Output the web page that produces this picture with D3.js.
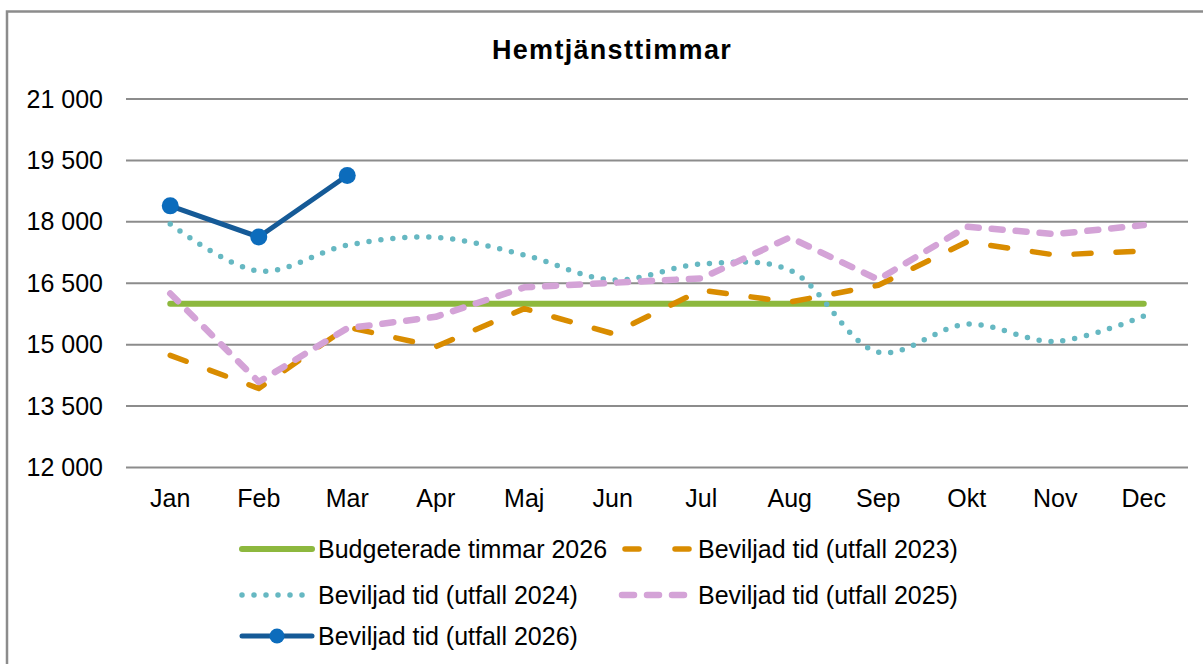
<!DOCTYPE html>
<html>
<head>
<meta charset="utf-8">
<script src="https://cdn.jsdelivr.net/npm/d3@7"></script>
<style>
  body { margin: 0; background: #fff; }
  svg { font-family: "Liberation Sans", Arial, sans-serif; }
</style>
</head>
<body>
<div id="chart"></div>
<script>
const months = ["Jan", "Feb", "Mar", "Apr", "Maj", "Jun", "Jul", "Aug", "Sep", "Okt", "Nov", "Dec"]
const yTicks = [12000, 13500, 15000, 16500, 18000, 19500, 21000]

const budget2026 = [16000, 16000, 16000, 16000, 16000, 16000, 16000, 16000, 16000, 16000, 16000, 16000]
const utfall2023 = [14740, 13930, 15430, 14950, 15880, 15270, 16330, 16040, 16450, 17510, 17190, 17290]
const utfall2024 = [17950, 16800, 17430, 17620, 17190, 16580, 16970, 16820, 14820, 15500, 15080, 15700]
const utfall2025 = [16250, 14090, 15400, 15680, 16400, 16510, 16620, 17620, 16590, 17880, 17700, 17920]
const utfall2026 = [18390, 17630, 19130]

const W = 1203, H = 664
const svg = d3.select("#chart").append("svg")
    .attr("width", W)
    .attr("height", H)

// chart frame (only top and left edges visible)
svg.append("path")
    .attr("d", "M7,664 V11.5 H1203")
    .attr("fill", "none")
    .attr("stroke", "#8c8c8c")
    .attr("stroke-width", 2.5)

svg.append("text")
    .attr("x", 612)
    .attr("y", 59)
    .attr("text-anchor", "middle")
    .attr("font-size", 27)
    .attr("font-weight", "bold")
    .attr("letter-spacing", 1.3)
    .text("Hemtjänsttimmar")

const x = d3.scaleBand()
    .domain(months)
    .range([126, 1188])

const y = d3.scaleLinear()
    .domain([12000, 21000])
    .range([467.5, 99])

const cx = m => x(m) + x.bandwidth() / 2

// grid lines
svg.append("g")
    .selectAll("line")
    .data(yTicks)
    .join("line")
    .attr("x1", 126)
    .attr("x2", 1188)
    .attr("y1", d => y(d))
    .attr("y2", d => y(d))
    .attr("stroke", "#8c8c8c")
    .attr("stroke-width", 2)

const fmt = d => d3.format(",")(d).replace(",", " ")

const yAxis = svg.append("g")
    .attr("transform", "translate(126,0)")
    .call(d3.axisLeft(y).tickValues(yTicks).tickSize(0).tickPadding(23).tickFormat(fmt))
yAxis.select(".domain").remove()
yAxis.selectAll("text")
    .attr("font-size", 25)
    .attr("font-family", "Liberation Sans, Arial, sans-serif")
    .attr("fill", "#000")

const xAxis = svg.append("g")
    .attr("transform", "translate(0,467.5)")
    .call(d3.axisBottom(x).tickSize(0).tickPadding(22))
xAxis.select(".domain").remove()
xAxis.selectAll("text")
    .attr("font-size", 25)
    .attr("font-family", "Liberation Sans, Arial, sans-serif")
    .attr("fill", "#000")

const series = [
    { name: "Budgeterade timmar 2026", values: budget2026, color: "#8db83e", width: 6, dash: null, curve: d3.curveLinear },
    { name: "Beviljad tid (utfall 2023)", values: utfall2023, color: "#d98c00", width: 5.5, dash: "17 25", curve: d3.curveLinear },
    { name: "Beviljad tid (utfall 2024)", values: utfall2024, color: "#66b8c2", width: 5.5, dash: "0 12", curve: d3.curveCatmullRom.alpha(0.5) },
    { name: "Beviljad tid (utfall 2025)", values: utfall2025, color: "#d4a3d7", width: 6.5, dash: "11 13", curve: d3.curveLinear },
    { name: "Beviljad tid (utfall 2026)", values: utfall2026, color: "#155a97", width: 5, dash: null, curve: d3.curveLinear, marker: "#0c6cbc" }
]

for (const s of series) {
    const line = d3.line()
        .x((d, j) => cx(months[j]))
        .y(d => y(d))
        .curve(s.curve)
    svg.append("path")
        .datum(s.values)
        .attr("d", line)
        .attr("fill", "none")
        .attr("stroke", s.color)
        .attr("stroke-width", s.width)
        .attr("stroke-linecap", "round")
        .attr("stroke-linejoin", "round")
        .attr("stroke-dasharray", s.dash)
    if (s.marker) {
        svg.append("g")
            .selectAll("circle")
            .data(s.values)
            .join("circle")
            .attr("cx", (d, j) => cx(months[j]))
            .attr("cy", d => y(d))
            .attr("r", 8.5)
            .attr("fill", s.marker)
    }
}

// legend
const legendPos = [
    { x: 242, y: 549 }, { x: 622, y: 549 },
    { x: 242, y: 595 }, { x: 622, y: 595 },
    { x: 242, y: 636 }
]
series.forEach((s, i) => {
    const p = legendPos[i]
    const g = svg.append("g").attr("transform", `translate(${p.x},${p.y})`)
    let dash = s.dash
    if (i === 1) dash = "14 36"
    if (i === 3) dash = "12 13"
    g.append("line")
        .attr("x1", i === 1 ? 3 : 0)
        .attr("x2", 70)
        .attr("stroke", s.color)
        .attr("stroke-width", s.width)
        .attr("stroke-linecap", "round")
        .attr("stroke-dasharray", dash)
    if (s.marker) {
        g.append("circle").attr("cx", 35).attr("r", 7.5).attr("fill", s.marker)
    }
    g.append("text")
        .attr("x", 76)
        .attr("dy", "0.36em")
        .attr("font-size", 25)
        .attr("textLength", null)
        .text(s.name)
})
</script>
</body>
</html>
